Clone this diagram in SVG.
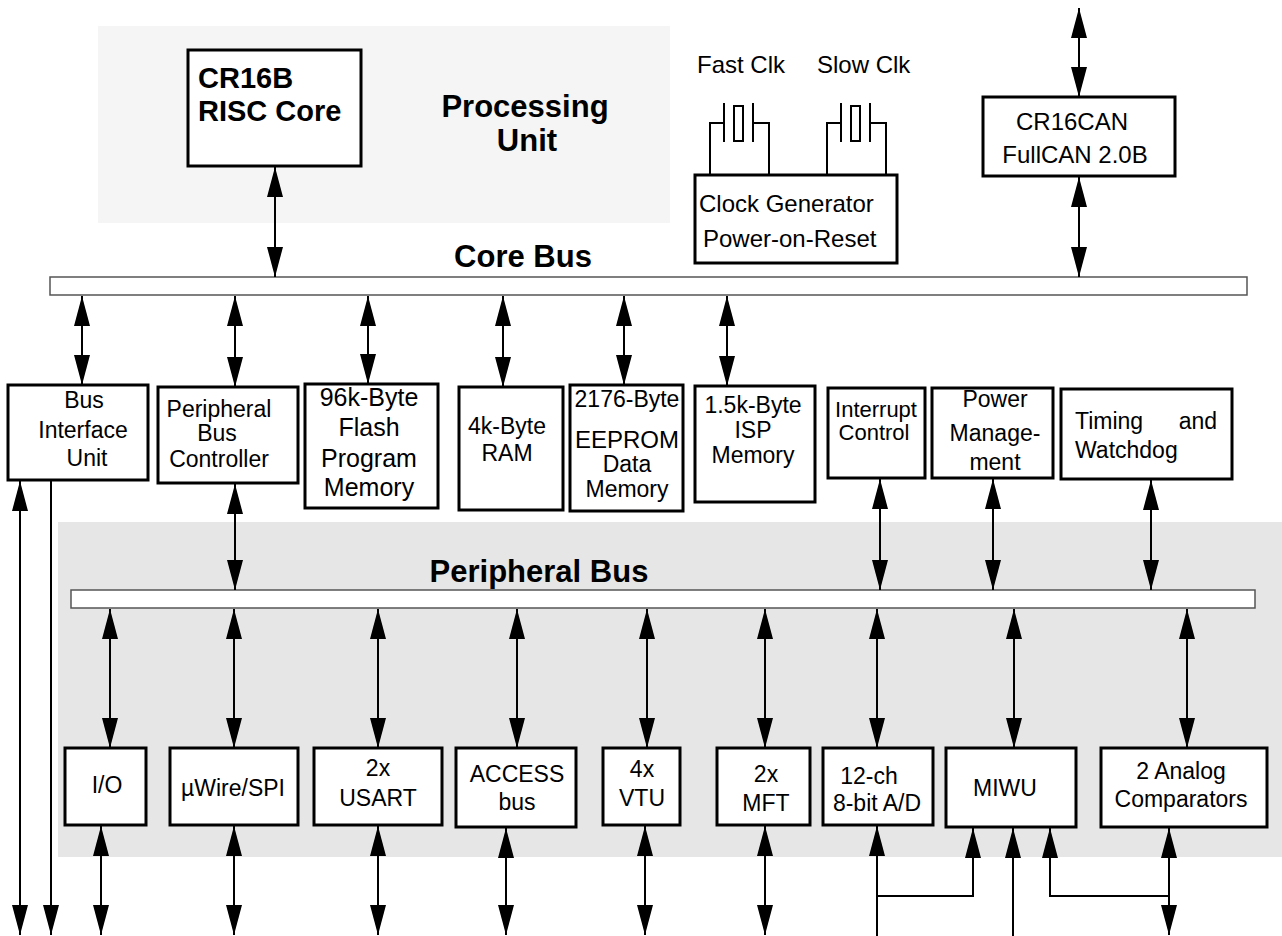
<svg xmlns="http://www.w3.org/2000/svg" width="1282" height="936" viewBox="0 0 1282 936">
<style>
.box{fill:#fff;stroke:#000;stroke-width:3}
.bus{fill:#fff;stroke:#555;stroke-width:1.5}
.t{font-family:"Liberation Sans",Arial,sans-serif;font-size:23px;fill:#000}
.c{text-anchor:middle}
.b{font-family:"Liberation Sans",Arial,sans-serif;font-size:31px;font-weight:bold;fill:#000}
.w{fill:none;stroke:#000;stroke-width:2}
.a2{fill:none;stroke:#000;stroke-width:2;marker-start:url(#ah);marker-end:url(#ah)}
.a1{fill:none;stroke:#000;stroke-width:2;marker-end:url(#ah)}
</style>
<defs>
<marker id="ah" viewBox="0 0 30 16" refX="30" refY="8" markerWidth="30" markerHeight="16" markerUnits="userSpaceOnUse" orient="auto-start-reverse">
<path d="M0,0 L30,8 L0,16 z" fill="#000"/>
</marker>
</defs>
<rect width="1282" height="936" fill="#fff"/>

<g id="processing-unit">
<rect x="98" y="26" width="572" height="197" fill="#f5f5f5"/>
<text class="b c" x="525" y="117">Processing</text>
<text class="b c" x="527" y="151">Unit</text>
</g>
<g id="peripheral-area">
<rect x="58" y="522" width="1224" height="335" fill="#e6e6e6"/>
</g>

<g id="cr16b">
<rect class="box" x="188" y="50" width="173" height="116"/>
<text class="b" x="198" y="88" style="font-size:29px">CR16B</text>
<text class="b" x="198" y="121" style="font-size:29px">RISC Core</text>
</g>

<g id="clock-gen">
<rect class="box" x="695" y="175" width="202" height="88"/>
<text class="t" x="699" y="212" style="font-size:24px">Clock Generator</text>
<text class="t" x="703" y="247" style="font-size:24px">Power-on-Reset</text>
</g>
<g id="fast-clk">
<text class="t" x="697" y="73" style="font-size:24px">Fast Clk</text>
<polyline class="w" points="710,175 710,123 724,123"/>
<line class="w" x1="724" y1="103" x2="724" y2="142"/>
<rect x="734" y="106" width="9" height="35" fill="none" stroke="#000" stroke-width="2"/>
<line class="w" x1="753" y1="103" x2="753" y2="142"/>
<polyline class="w" points="753,123 769,123 769,175"/>
</g>
<g id="slow-clk">
<text class="t" x="817" y="73" style="font-size:24px">Slow Clk</text>
<polyline class="w" points="827,175 827,123 841,123"/>
<line class="w" x1="841" y1="103" x2="841" y2="142"/>
<rect x="851" y="106" width="9" height="35" fill="none" stroke="#000" stroke-width="2"/>
<line class="w" x1="870" y1="103" x2="870" y2="142"/>
<polyline class="w" points="870,123 886,123 886,175"/>
</g>

<g id="cr16can">
<rect class="box" x="983" y="97" width="192" height="79"/>
<text class="t c" x="1072" y="130" style="font-size:24px">CR16CAN</text>
<text class="t c" x="1075" y="163" style="font-size:24px">FullCAN 2.0B</text>
</g>

<g id="core-bus">
<text class="b c" x="523" y="267">Core Bus</text>
<rect class="bus" x="50" y="277" width="1197" height="18"/>
</g>

<g id="biu">
<rect class="box" x="8" y="385" width="140" height="95"/>
<text class="t c" x="84" y="408">Bus</text>
<text class="t c" x="83" y="438">Interface</text>
<text class="t c" x="87" y="466">Unit</text>
</g>
<g id="pbc">
<rect class="box" x="158" y="387" width="140" height="96"/>
<text class="t c" x="219" y="417">Peripheral</text>
<text class="t c" x="217" y="441">Bus</text>
<text class="t c" x="219" y="467">Controller</text>
</g>
<g id="flash">
<rect class="box" x="305" y="384" width="133" height="124"/>
<text class="t c" x="369" y="406" style="font-size:25px">96k-Byte</text>
<text class="t c" x="369" y="436" style="font-size:25px">Flash</text>
<text class="t c" x="369" y="467" style="font-size:25px">Program</text>
<text class="t c" x="369" y="496" style="font-size:25px">Memory</text>
</g>
<g id="ram">
<rect class="box" x="459" y="387" width="104" height="123"/>
<text class="t c" x="507" y="434">4k-Byte</text>
<text class="t c" x="507" y="461">RAM</text>
</g>
<g id="eeprom">
<rect class="box" x="570" y="385" width="113" height="126"/>
<text class="t c" x="627" y="407">2176-Byte</text>
<text class="t c" x="627" y="448" style="font-size:24px">EEPROM</text>
<text class="t c" x="627" y="472">Data</text>
<text class="t c" x="627" y="497">Memory</text>
</g>
<g id="isp">
<rect class="box" x="695" y="386" width="120" height="116"/>
<text class="t c" x="753" y="413">1.5k-Byte</text>
<text class="t c" x="753" y="438">ISP</text>
<text class="t c" x="753" y="463">Memory</text>
</g>
<g id="interrupt">
<rect class="box" x="828" y="388" width="97" height="90"/>
<text class="t c" x="876" y="417" style="font-size:22px">Interrupt</text>
<text class="t c" x="874" y="440" style="font-size:22px">Control</text>
</g>
<g id="power">
<rect class="box" x="932" y="388" width="121" height="90"/>
<text class="t c" x="995" y="407">Power</text>
<text class="t c" x="995" y="441">Manage-</text>
<text class="t c" x="995" y="470">ment</text>
</g>
<g id="timing">
<rect class="box" x="1061" y="389" width="171" height="90"/>
<text class="t" x="1075" y="429">Timing</text>
<text class="t" x="1217" y="429" text-anchor="end">and</text>
<text class="t" x="1075" y="458">Watchdog</text>
</g>

<g id="peripheral-bus">
<text class="b c" x="539" y="582">Peripheral Bus</text>
<rect class="bus" x="71" y="590" width="1184" height="18"/>
</g>

<g id="io">
<rect class="box" x="65" y="748" width="81" height="77"/>
<text class="t c" x="107" y="793">I/O</text>
</g>
<g id="uwire">
<rect class="box" x="170" y="748" width="128" height="77"/>
<text class="t c" x="233" y="796">µWire/SPI</text>
</g>
<g id="usart">
<rect class="box" x="314" y="748" width="128" height="77"/>
<text class="t c" x="378" y="776">2x</text>
<text class="t c" x="378" y="806">USART</text>
</g>
<g id="access">
<rect class="box" x="456" y="748" width="120" height="79"/>
<text class="t c" x="517" y="782">ACCESS</text>
<text class="t c" x="517" y="810">bus</text>
</g>
<g id="vtu">
<rect class="box" x="603" y="748" width="77" height="77"/>
<text class="t c" x="642" y="777">4x</text>
<text class="t c" x="642" y="806">VTU</text>
</g>
<g id="mft">
<rect class="box" x="717" y="748" width="93" height="77"/>
<text class="t c" x="766" y="782">2x</text>
<text class="t c" x="766" y="811">MFT</text>
</g>
<g id="adc">
<rect class="box" x="823" y="748" width="110" height="77"/>
<text class="t c" x="869" y="784">12-ch</text>
<text class="t c" x="877" y="811">8-bit A/D</text>
</g>
<g id="miwu">
<rect class="box" x="946" y="748" width="130" height="79"/>
<text class="t c" x="1005" y="796">MIWU</text>
</g>
<g id="comparators">
<rect class="box" x="1101" y="748" width="166" height="79"/>
<text class="t c" x="1181" y="779">2 Analog</text>
<text class="t c" x="1181" y="807">Comparators</text>
</g>

<g id="connectors">
<line class="a2" x1="275" y1="167" x2="275" y2="277"/>
<line class="a2" x1="1079" y1="8" x2="1079" y2="97"/>
<line class="a2" x1="1079" y1="177" x2="1079" y2="277"/>
<line class="a2" x1="82" y1="296" x2="82" y2="385"/>
<line class="a2" x1="235" y1="296" x2="235" y2="387"/>
<line class="a2" x1="368" y1="296" x2="368" y2="384"/>
<line class="a2" x1="503" y1="296" x2="503" y2="387"/>
<line class="a2" x1="624" y1="296" x2="624" y2="385"/>
<line class="a2" x1="727" y1="296" x2="727" y2="386"/>
<line class="a2" x1="235" y1="484" x2="235" y2="590"/>
<line class="a2" x1="880" y1="479" x2="880" y2="590"/>
<line class="a2" x1="993" y1="479" x2="993" y2="590"/>
<line class="a2" x1="1151" y1="480" x2="1151" y2="590"/>
<line class="a2" x1="110" y1="609" x2="110" y2="748"/>
<line class="a2" x1="234" y1="609" x2="234" y2="748"/>
<line class="a2" x1="378" y1="609" x2="378" y2="748"/>
<line class="a2" x1="517" y1="609" x2="517" y2="748"/>
<line class="a2" x1="647" y1="609" x2="647" y2="748"/>
<line class="a2" x1="765" y1="609" x2="765" y2="748"/>
<line class="a2" x1="877" y1="609" x2="877" y2="748"/>
<line class="a2" x1="1014" y1="609" x2="1014" y2="748"/>
<line class="a2" x1="1187" y1="609" x2="1187" y2="748"/>
<line class="a2" x1="101" y1="826" x2="101" y2="935"/>
<line class="a2" x1="234" y1="826" x2="234" y2="935"/>
<line class="a2" x1="378" y1="826" x2="378" y2="935"/>
<line class="a2" x1="506" y1="828" x2="506" y2="935"/>
<line class="a2" x1="645" y1="826" x2="645" y2="935"/>
<line class="a2" x1="765" y1="826" x2="765" y2="935"/>
<line class="a1" x1="877" y1="936" x2="877" y2="826"/>
<polyline class="a1" points="877,896 973,896 973,828"/>
<line class="a1" x1="1013" y1="936" x2="1013" y2="828"/>
<polyline class="a1" points="1170,896 1050,896 1050,828"/>
<line class="a2" x1="1169" y1="828" x2="1169" y2="935"/>
<line class="a2" x1="20" y1="481" x2="20" y2="935"/>
<line class="a1" x1="51" y1="481" x2="51" y2="935"/>
</g>
</svg>
